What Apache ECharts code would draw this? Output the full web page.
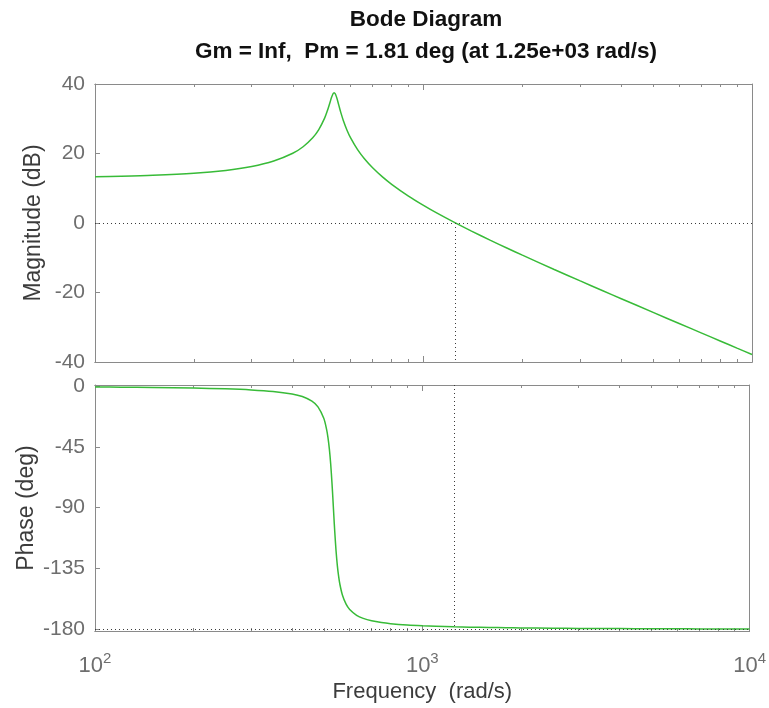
<!DOCTYPE html>
<html>
<head>
<meta charset="utf-8">
<script src="https://cdn.jsdelivr.net/npm/echarts@6/dist/echarts.min.js"></script>
<style>
  html, body { margin: 0; padding: 0; background: #ffffff; }
  #chart { width: 769px; height: 708px; }
</style>
</head>
<body>
<div id="chart"></div>
<script>
// Frequency samples (rad/s), denser around the resonance
const freq = [100,120,150,200,250,300,350,400,430,460,480,500,510,515,520,525,530,533,535,537,540,545,550,555,560,570,585,600,630,660,700,750,800,900,1000,1100,1250,1400,1600,1800,2000,2500,3000,3500,4000,5000,6000,7000,8000,9000,10000];

// Magnitude response (dB)
const magnitudeDb = [13.31,13.45,13.72,14.31,15.14,16.27,17.84,20.07,21.95,24.52,26.88,30.18,32.36,33.60,34.91,36.16,37.12,37.41,37.44,37.34,36.96,35.88,34.53,33.15,31.84,29.52,26.71,24.50,21.12,18.57,15.90,13.28,11.14,7.74,5.06,2.82,0.02,-2.34,-5.00,-7.27,-9.26,-13.37,-16.66,-19.42,-21.79,-25.72,-28.92,-31.61,-33.94,-36.00,-37.83];

// Phase response (deg)
const phaseDeg = [-0.67,-0.81,-1.05,-1.49,-2.06,-2.81,-3.93,-5.81,-7.76,-11.19,-15.43,-23.89,-32.07,-38.22,-46.52,-57.83,-72.64,-82.88,-90.00,-97.10,-107.23,-121.70,-132.70,-140.73,-146.70,-154.66,-161.47,-165.37,-169.65,-171.93,-173.71,-175.02,-175.85,-176.84,-177.43,-177.81,-178.20,-178.46,-178.71,-178.88,-179.01,-179.23,-179.37,-179.46,-179.53,-179.63,-179.69,-179.74,-179.77,-179.79,-179.82];

// Stability margins
const crossoverFreq = 1250;
const phaseMarginDeg = 1.81;

// Axis ticks
const freqDecades = [100, 1000, 10000];
const freqMinorTicks = [200,300,400,500,600,700,800,900,2000,3000,4000,5000,6000,7000,8000,9000];
const magTicks = [-40, -20, 0, 20, 40];
const phaseTicks = [0, -45, -90, -135, -180];

const FONT = '"Liberation Sans", Arial, Helvetica, sans-serif';
const BOX = '#8a8a8a';
const TICK_TEXT = '#6e6e6e';
const NAME_TEXT = '#3c3c3c';
const CURVE = '#38bb38';
const GUIDE = '#3a3a3a';

function freqAxis(gridIndex, position, ticks, len, showLabels) {
  return {
    type: 'log', logBase: 10, gridIndex, position,
    min: 100, max: 10000,
    axisLine: { show: true, onZero: false, lineStyle: { color: BOX, width: 1 } },
    axisTick: { show: true, inside: true, length: len, customValues: ticks, lineStyle: { color: BOX } },
    splitLine: { show: false },
    minorTick: { show: false },
    axisLabel: showLabels ? {
      show: true, customValues: freqDecades, margin: 20,
      formatter: v => '{b|10}{s|' + Math.round(Math.log10(v)) + '}',
      rich: {
        b: { fontFamily: FONT, fontSize: 22, color: TICK_TEXT },
        s: { fontFamily: FONT, fontSize: 15, color: TICK_TEXT, verticalAlign: 'top', padding: [0, 0, 14, 0] }
      }
    } : { show: false },
    name: showLabels ? 'Frequency  (rad/s)' : '',
    nameLocation: 'middle', nameGap: 50, nameMoveOverlap: false,
    nameTextStyle: { fontFamily: FONT, fontSize: 22, color: NAME_TEXT }
  };
}

const chart = echarts.init(document.getElementById('chart'));

chart.setOption({
  backgroundColor: '#ffffff',
  animation: false,
  title: [
    { text: 'Bode Diagram', left: 421, top: 3, textAlign: 'center',
      textStyle: { fontFamily: FONT, fontSize: 22.5, fontWeight: 'bold', color: '#111' } },
    { text: 'Gm = Inf,  Pm = ' + phaseMarginDeg + ' deg (at 1.25e+03 rad/s)', left: 421, top: 35, textAlign: 'center',
      textStyle: { fontFamily: FONT, fontSize: 22.5, fontWeight: 'bold', color: '#111' } }
  ],
  grid: [
    { left: 95, right: 17, top: 84, height: 278 },
    { left: 95, right: 17, top: 385, height: 246 }
  ],
  xAxis: [
    freqAxis(0, 'bottom', freqDecades, 6, false),
    freqAxis(0, 'bottom', freqMinorTicks, 3, false),
    freqAxis(0, 'top', freqDecades, 6, false),
    freqAxis(0, 'top', freqMinorTicks, 3, false),
    freqAxis(1, 'bottom', freqDecades, 6, true),
    freqAxis(1, 'bottom', freqMinorTicks, 3, false),
    freqAxis(1, 'top', freqDecades, 6, false),
    freqAxis(1, 'top', freqMinorTicks, 3, false)
  ],
  yAxis: [
    {
      type: 'value', gridIndex: 0, position: 'left', min: -40, max: 40,
      axisLine: { show: true, lineStyle: { color: BOX } },
      axisTick: { show: true, inside: true, length: 5, customValues: magTicks, lineStyle: { color: BOX } },
      splitLine: { show: false },
      axisLabel: { fontFamily: FONT, fontSize: 21, color: TICK_TEXT, margin: 10, customValues: magTicks },
      name: 'Magnitude (dB)', nameLocation: 'middle', nameGap: 50, nameMoveOverlap: false,
      nameTextStyle: { fontFamily: FONT, fontSize: 23, color: NAME_TEXT }
    },
    {
      type: 'value', gridIndex: 0, position: 'right', min: -40, max: 40,
      axisLine: { show: true, lineStyle: { color: BOX } },
      axisTick: { show: false }, axisLabel: { show: false }, splitLine: { show: false }
    },
    {
      type: 'value', gridIndex: 1, position: 'left', min: -181.3, max: 0.8,
      axisLine: { show: true, lineStyle: { color: BOX } },
      axisTick: { show: true, inside: true, length: 5, customValues: phaseTicks, lineStyle: { color: BOX } },
      splitLine: { show: false },
      axisLabel: { fontFamily: FONT, fontSize: 21, color: TICK_TEXT, margin: 10, customValues: phaseTicks },
      name: 'Phase (deg)', nameLocation: 'middle', nameGap: 57, nameMoveOverlap: false,
      nameTextStyle: { fontFamily: FONT, fontSize: 23, color: NAME_TEXT }
    },
    {
      type: 'value', gridIndex: 1, position: 'right', min: -181.3, max: 0.8,
      axisLine: { show: true, lineStyle: { color: BOX } },
      axisTick: { show: false }, axisLabel: { show: false }, splitLine: { show: false }
    }
  ],
  series: [
    {
      name: 'Magnitude', type: 'line', xAxisIndex: 0, yAxisIndex: 0,
      data: freq.map((w, i) => [w, magnitudeDb[i]]),
      showSymbol: false, smooth: 0.3, lineStyle: { color: CURVE, width: 1.5 },
      markLine: {
        silent: true, symbol: 'none', label: { show: false },
        lineStyle: { color: GUIDE, type: [1, 3], width: 1 },
        data: [
          [{ coord: [100, 0] }, { coord: [10000, 0] }],
          [{ coord: [crossoverFreq, 0] }, { coord: [crossoverFreq, -40] }]
        ]
      }
    },
    {
      name: 'Phase', type: 'line', xAxisIndex: 4, yAxisIndex: 2,
      data: freq.map((w, i) => [w, phaseDeg[i]]),
      showSymbol: false, smooth: 0.3, lineStyle: { color: CURVE, width: 1.5 },
      markLine: {
        silent: true, symbol: 'none', label: { show: false },
        lineStyle: { color: GUIDE, type: [1, 3], width: 1 },
        data: [
          [{ coord: [100, -180] }, { coord: [10000, -180] }],
          [{ coord: [crossoverFreq, 0.8] }, { coord: [crossoverFreq, -180] }]
        ]
      }
    }
  ]
});
</script>
</body>
</html>
